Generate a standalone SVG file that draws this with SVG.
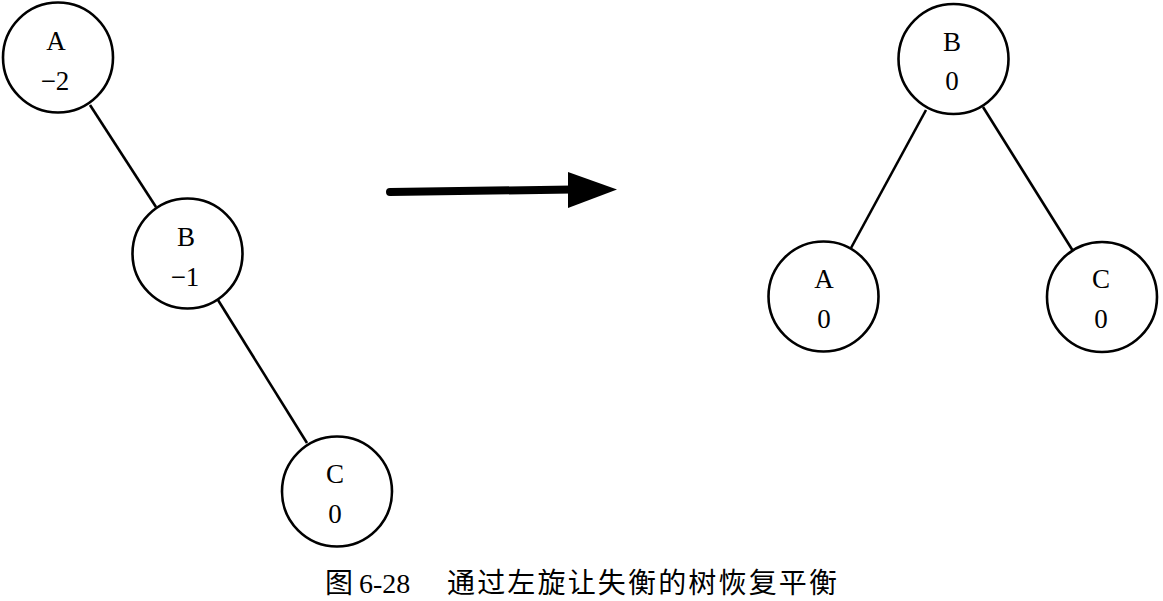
<svg xmlns="http://www.w3.org/2000/svg" width="1163" height="601" viewBox="0 0 1163 601">
<style>
.n{fill:#fff;stroke:#000;stroke-width:2.6}
.t{font-family:"Liberation Serif","Times New Roman",serif;font-size:27px;fill:#000;text-anchor:middle}
.e{stroke:#000;stroke-width:2.6;fill:none}
.cap{font-family:"Liberation Serif","Noto Sans CJK SC",serif;font-size:28px;fill:#000}
</style>
<rect width="1163" height="601" fill="#fff"/>
<g id="connectors">
<line class="e" x1="90" y1="105" x2="156" y2="207"/>
<line class="e" x1="218" y1="300" x2="307" y2="443"/>
<line class="e" x1="926" y1="110" x2="851" y2="248"/>
<line class="e" x1="983" y1="107" x2="1073" y2="251"/>
<line x1="390" y1="192" x2="572" y2="189.5" stroke="#000" stroke-width="8" stroke-linecap="round"/>
<polygon points="568,172 617,189.5 568,208" fill="#000"/>
</g>
<g id="left-A">
<circle class="n" cx="58" cy="57.5" r="55"/>
<text class="t" x="56" y="50">A</text>
<text class="t" x="55" y="90">−2</text>
</g>
<g id="left-B">
<circle class="n" cx="187.5" cy="253.5" r="55"/>
<text class="t" x="186" y="246">B</text>
<text class="t" x="185" y="286">−1</text>
</g>
<g id="left-C">
<circle class="n" cx="337" cy="491.5" r="55"/>
<text class="t" x="335" y="483">C</text>
<text class="t" x="335" y="523">0</text>
</g>
<g id="right-B">
<circle class="n" cx="953.5" cy="59" r="55"/>
<text class="t" x="952" y="51">B</text>
<text class="t" x="952" y="90">0</text>
</g>
<g id="right-A">
<circle class="n" cx="823.5" cy="296.5" r="55"/>
<text class="t" x="824" y="288">A</text>
<text class="t" x="824" y="328">0</text>
</g>
<g id="right-C">
<circle class="n" cx="1102" cy="297" r="55"/>
<text class="t" x="1101" y="288">C</text>
<text class="t" x="1101" y="328">0</text>
</g>
<g id="caption">
<text class="cap" x="325" y="593">图</text>
<text class="cap" x="359" y="593">6-28</text>
<text class="cap" x="447" y="593" textLength="390" lengthAdjust="spacing">通过左旋让失衡的树恢复平衡</text>
</g>
</svg>
